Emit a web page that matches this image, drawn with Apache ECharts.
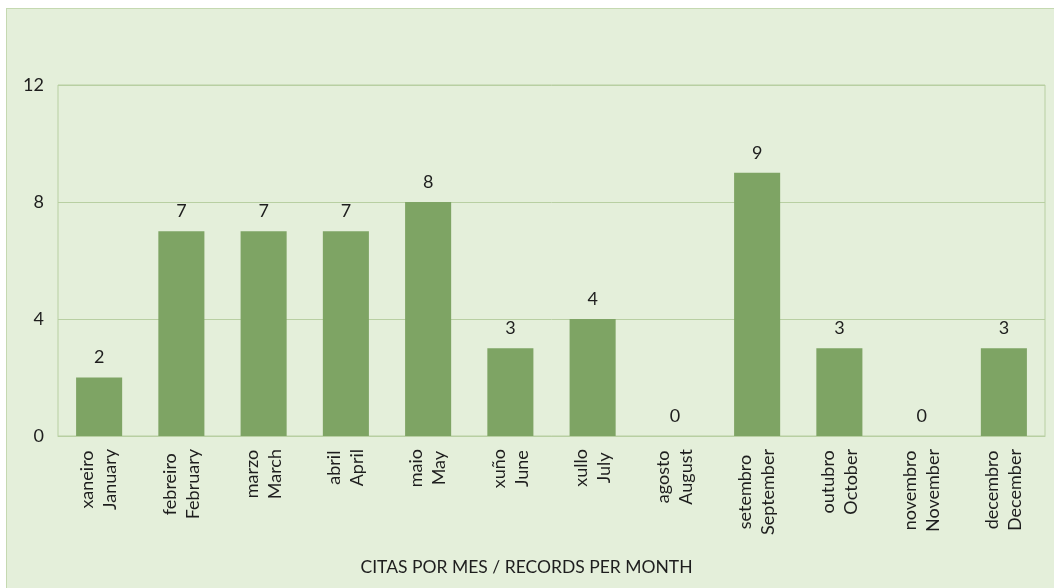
<!DOCTYPE html>
<html>
<head>
<meta charset="utf-8">
<script src="https://cdn.jsdelivr.net/npm/echarts@6/dist/echarts.min.js"></script>
<style>
  html, body { margin: 0; padding: 0; background: #ffffff; }
  #chart {
    position: absolute;
    left: 6px;
    top: 8px;
    width: 1047px;
    height: 579px;
    background: #e4efda;
    border-left: 1px solid #c5d9b1;
    border-top: 1px solid #c5d9b1;
  }
</style>
</head>
<body>
<div id="chart"></div>
<script>
const monthsGl = ['xaneiro', 'febreiro', 'marzo', 'abril', 'maio', 'xuño', 'xullo', 'agosto', 'setembro', 'outubro', 'novembro', 'decembro'];
const monthsEn = ['January', 'February', 'March', 'April', 'May', 'June', 'July', 'August', 'September', 'October', 'November', 'December'];
const records = [2, 7, 7, 7, 8, 3, 4, 0, 9, 3, 0, 3];
const yTicks = [0, 4, 8, 12];

const categories = monthsGl.map((g, i) => g + '\n' + monthsEn[i]);
const font = 'Lato, "Noto Sans", sans-serif';
const lineColor = '#b8cfa2';
const txt = '#1e1e1e';

const chart = echarts.init(document.getElementById('chart'));
chart.setOption({
  animation: false,
  textStyle: { fontFamily: font },
  grid: {
    left: 51,
    right: 9,
    top: 76,
    bottom: 152,
    show: true,
    borderColor: lineColor,
    borderWidth: 1,
    backgroundColor: 'transparent'
  },
  xAxis: {
    type: 'category',
    data: categories,
    name: 'CITAS POR MES / RECORDS PER MONTH',
    nameLocation: 'middle',
    nameGap: 122,
    // the title sits a little left of the plot centre
    nameTextStyle: { color: txt, fontSize: 17.5, fontFamily: font, padding: [0, 50, 0, 0] },
    axisLine: { show: true, lineStyle: { color: lineColor, width: 1 } },
    axisTick: { show: false },
    axisLabel: {
      rotate: 90,
      interval: 0,
      margin: 13,
      align: 'right',
      formatter: (v) => v.split('\n').map(s => '{m|' + s + '}').join('\n'),
      rich: {
        m: { align: 'center', color: txt, fontSize: 18, lineHeight: 23, fontFamily: font }
      }
    }
  },
  yAxis: {
    type: 'value',
    min: yTicks[0],
    max: yTicks[yTicks.length - 1],
    interval: yTicks[1] - yTicks[0],
    axisLine: { show: false },
    axisTick: { show: false },
    axisLabel: { color: txt, fontSize: 18, margin: 14, fontFamily: font },
    splitLine: { lineStyle: { color: lineColor, width: 1 } }
  },
  series: [{
    type: 'bar',
    data: records,
    barWidth: '56%',
    itemStyle: { color: '#7ea464' },
    label: {
      show: true,
      position: 'top',
      distance: 11,
      color: txt,
      fontSize: 18,
      fontFamily: font
    }
  }]
});
</script>
</body>
</html>
